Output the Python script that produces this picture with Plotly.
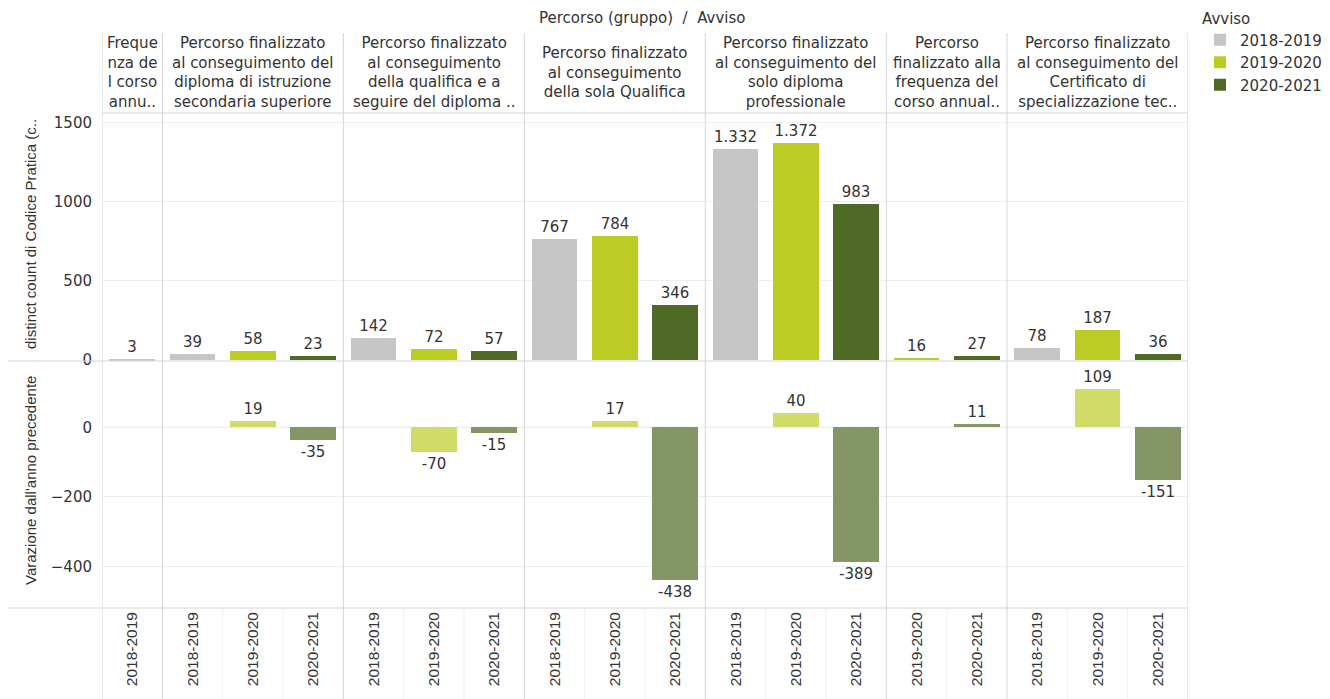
import plotly.graph_objects as go

# ---------------- data ----------------
groups = [
    "Freque<br>nza de<br>l corso<br>annu..",
    "Percorso finalizzato<br>al conseguimento del<br>diploma di istruzione<br>secondaria superiore",
    "Percorso finalizzato<br>al conseguimento<br>della qualifica e a<br>seguire del diploma ..",
    "Percorso finalizzato<br>al conseguimento<br>della sola Qualifica",
    "Percorso finalizzato<br>al conseguimento del<br>solo diploma<br>professionale",
    "Percorso<br>finalizzato alla<br>frequenza del<br>corso annual..",
    "Percorso finalizzato<br>al conseguimento del<br>Certificato di<br>specializzazione tec..",
]
years = ["2018-2019", "2019-2020", "2020-2021"]
row_group = [0, 1, 1, 1, 2, 2, 2, 3, 3, 3, 4, 4, 4, 5, 5, 6, 6, 6]
row_year = ["2018-2019",
            "2018-2019", "2019-2020", "2020-2021",
            "2018-2019", "2019-2020", "2020-2021",
            "2018-2019", "2019-2020", "2020-2021",
            "2018-2019", "2019-2020", "2020-2021",
            "2019-2020", "2020-2021",
            "2018-2019", "2019-2020", "2020-2021"]
counts = [3, 39, 58, 23, 142, 72, 57, 767, 784, 346, 1332, 1372, 983, 16, 27, 78, 187, 36]
variation = [None, None, 19, -35, None, -70, -15, None, 17, -438, None, 40, -389,
             None, 11, None, 109, -151]

top_colors = {"2018-2019": "#c6c6c6", "2019-2020": "#bdcc25", "2020-2021": "#4f6a27"}
bot_colors = {"2018-2019": "#d6d6d6", "2019-2020": "#d1dc68", "2020-2021": "#849566"}

title_text = "Percorso (gruppo)  /  Avviso"
y1_title = "distinct count di Codice Pratica (c.."
y2_title = "Varazione dall'anno precedente"
legend_title = "Avviso"

# ---------------- helpers ----------------
HFONT = "DejaVu Sans"
VFONT = "Liberation Sans, Arial"
TXT = "#333333"
LINE = "#d4d4d4"


def fmt(v):
    return f"{v:,}".replace(",", ".")


slots = list(range(len(row_group)))

fig = go.Figure()

for yr in years:
    idx = [i for i in slots if row_year[i] == yr]
    fig.add_trace(go.Bar(
        x=idx, y=[counts[i] for i in idx],
        text=[fmt(counts[i]) for i in idx], textposition="outside",
        textfont=dict(family=HFONT, size=15, color=TXT),
        constraintext="none", cliponaxis=False,
        marker=dict(color=top_colors[yr], line=dict(width=0)),
        width=0.76, name=yr, legendgroup=yr, showlegend=True,
        xaxis="x", yaxis="y",
    ))

for yr in years:
    idx = [i for i in slots if row_year[i] == yr and variation[i] is not None]
    fig.add_trace(go.Bar(
        x=idx, y=[variation[i] for i in idx],
        text=[fmt(variation[i]) for i in idx], textposition="outside",
        textfont=dict(family=HFONT, size=15, color=TXT),
        constraintext="none", cliponaxis=False,
        marker=dict(color=bot_colors[yr], line=dict(width=0)),
        width=0.76, name=yr, legendgroup=yr, showlegend=False,
        xaxis="x", yaxis="y2",
    ))

# ---------------- layout geometry ----------------
W, H = 1330, 699
ml, mr, mt, mb = 102, 142, 113, 91
pw, ph = W - ml - mr, H - mt - mb


def px_to_py(py):
    return (H - mb - py) / ph


def px_to_px(px):
    return (px - ml) / pw


split = px_to_py(361)

shapes = []
annotations = []

# group boundaries and header labels
n_groups = len(groups)
for g in range(n_groups):
    members = [i for i in slots if row_group[i] == g]
    lo, hi = min(members) - 0.5, max(members) + 0.5
    annotations.append(dict(
        x=(lo + hi) / 2, xref="x", y=px_to_py(73), yref="paper",
        text=groups[g], showarrow=False, xanchor="center", yanchor="middle",
        align="center", font=dict(family=HFONT, size=15, color=TXT),
    ))
    for xb in ([lo, hi] if g == 0 else [hi]):
        shapes.append(dict(type="line", xref="x", yref="paper",
                           x0=xb, x1=xb, y0=px_to_py(699), y1=px_to_py(33),
                           line=dict(color=LINE, width=1), layer="above"))

# faint separators between tick labels
for i in slots[:-1]:
    if row_group[i] == row_group[i + 1]:
        shapes.append(dict(type="line", xref="x", yref="paper",
                           x0=i + 0.5, x1=i + 0.5, y0=px_to_py(699), y1=px_to_py(608),
                           line=dict(color="#f0f0f0", width=1), layer="below"))

# horizontal separators
shapes.append(dict(type="line", xref="paper", yref="paper", x0=0, x1=1,
                   y0=1, y1=1, line=dict(color=LINE, width=1)))
for py in (361, 608):
    shapes.append(dict(type="line", xref="paper", yref="paper",
                       x0=px_to_px(8), x1=1, y0=px_to_py(py), y1=px_to_py(py),
                       line=dict(color=LINE, width=1)))

# dotted zero line in the variation panel
shapes.append(dict(type="line", xref="paper", yref="y2", x0=0, x1=1, y0=0, y1=0,
                   line=dict(color="#bdbdbd", width=1, dash="dot"), layer="below"))

# title and axis titles
annotations.append(dict(x=px_to_px(642), xref="paper", y=px_to_py(18), yref="paper",
                        text=title_text, showarrow=False, xanchor="center", yanchor="middle",
                        font=dict(family=HFONT, size=15, color=TXT)))
annotations.append(dict(x=px_to_px(30), xref="paper", y=px_to_py(234), yref="paper",
                        text=y1_title, showarrow=False, textangle=-90,
                        xanchor="center", yanchor="middle",
                        font=dict(family=VFONT, size=15, color=TXT)))
annotations.append(dict(x=px_to_px(30), xref="paper", y=px_to_py(481), yref="paper",
                        text=y2_title, showarrow=False, textangle=-90,
                        xanchor="center", yanchor="middle",
                        font=dict(family=VFONT, size=15, color=TXT)))

fig.update_layout(
    width=W, height=H, autosize=False,
    margin=dict(l=ml, r=mr, t=mt, b=mb, pad=0, autoexpand=False),
    paper_bgcolor="white", plot_bgcolor="white",
    barmode="overlay", bargap=0,
    font=dict(family=HFONT, size=15, color=TXT),
    xaxis=dict(range=[-0.5, len(slots) - 0.5], tickmode="array", tickvals=slots,
               ticktext=row_year, tickangle=-90, anchor="y2", showgrid=False,
               zeroline=False, showline=False, ticks="",
               tickfont=dict(family=VFONT, size=15.5, color=TXT)),
    yaxis=dict(domain=[split, 1], range=[-6, 1561], tickvals=[0, 500, 1000, 1500],
               showgrid=True, gridcolor="#eeeeee", zeroline=False, showline=False,
               ticks="", ticklabelstandoff=9,
               tickfont=dict(family=HFONT, size=15, color=TXT)),
    yaxis2=dict(domain=[0, split], range=[-520, 191], tickvals=[-400, -200, 0],
                showgrid=True, gridcolor="#eeeeee", zeroline=False, showline=False,
                ticks="", ticklabelstandoff=9,
                tickfont=dict(family=HFONT, size=15, color=TXT)),
    legend=dict(x=px_to_px(1200), y=px_to_py(4), xanchor="left", yanchor="top",
                xref="paper", yref="paper", traceorder="grouped", tracegroupgap=0,
                title=dict(text=legend_title, font=dict(family=HFONT, size=15, color=TXT)),
                font=dict(family=HFONT, size=15, color=TXT), bgcolor="rgba(0,0,0,0)"),
    shapes=shapes, annotations=annotations,
)

fig.write_html("out.html", config={"displayModeBar": False},
               post_script="document.body.style.margin='0px';document.body.style.overflow='hidden';")
